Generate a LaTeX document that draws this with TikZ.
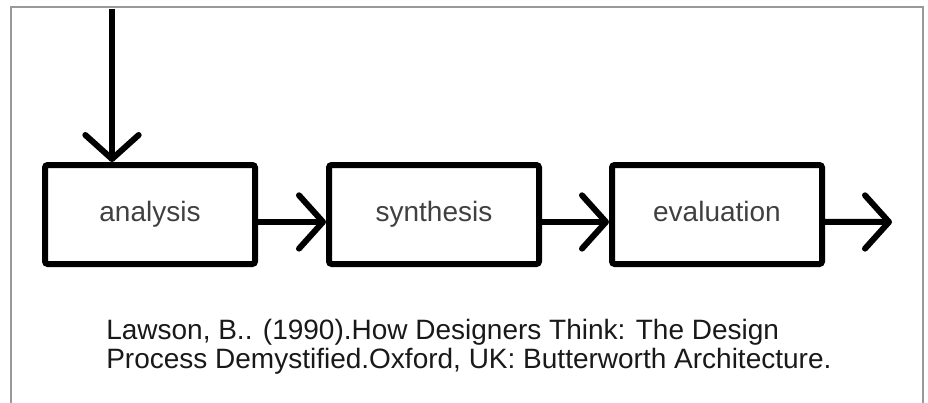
\documentclass[tikz,border=0pt]{standalone}
\usepackage{fontspec}
\setmainfont{Liberation Sans}
\usetikzlibrary{arrows.meta}
\begin{document}
\begin{tikzpicture}[x=0.75pt,y=-0.75pt,
  box/.style={draw=black, line width=4.5pt, rounded corners=2pt,
    minimum width=157.5pt, minimum height=74.25pt, inner sep=0pt,
    text height=15pt, text depth=4.5pt,
    text=black!75, font=\fontsize{21}{25}\selectfont},
  conn/.style={draw=black, line width=4.5pt,
    -{Straight Barb[length=18pt,width=40pt,round]}},
  cite/.style={align=left, inner sep=0pt, text=black!90,
    font=\fontsize{21}{21.75}\selectfont},
  frame/.style={draw=black!40, line width=1.5pt}]
\useasboundingbox (0,0) rectangle (928,403);
\draw[frame] (11,420) -- (11,7) -- (923,7) -- (923,420);
\node[box] (a) at (150,214.5) {analysis};
\node[box] (b) at (434,214.5) {synthesis};
\node[box] (c) at (717,214.5) {evaluation};
\coordinate (src) at (112,9);
\coordinate (out) at (892,222);
\draw[conn] (src) -- (src |- a.north);
\draw[conn] ([yshift=-5.6pt]a.east) -- ([yshift=-5.6pt]b.west);
\draw[conn] ([yshift=-5.6pt]b.east) -- ([yshift=-5.6pt]c.west);
\draw[conn] ([yshift=-5.6pt]c.east) -- (out);
\node[cite, anchor=north west] (ref) at (106,319)
  {Lawson, B.. (1990).How Designers Think: The Design\\
   Process Demystified.Oxford, UK: Butterworth Architecture.};
\end{tikzpicture}
\end{document}
